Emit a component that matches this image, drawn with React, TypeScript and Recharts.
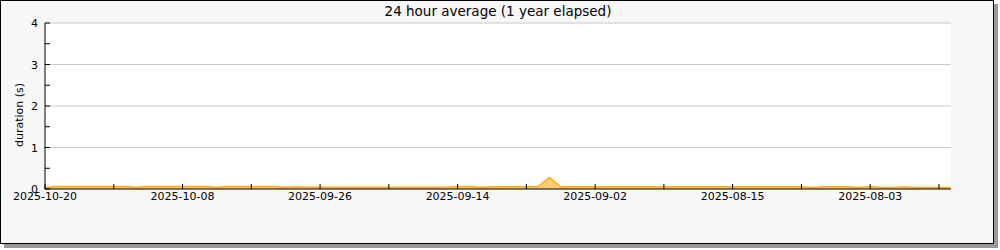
import React from "react";
import { Area, AreaChart, CartesianGrid, XAxis, YAxis } from "recharts";

// days before 2025-10-20, one value per day (seconds)
const durations = [
  0.035, 0.06, 0.06, 0.06, 0.06, 0.06, 0.06, 0.06, 0.04, 0.06,
  0.06, 0.06, 0.06, 0.06, 0.06, 0.04, 0.06, 0.06, 0.06, 0.06,
  0.06, 0.04, 0.055, 0.045, 0.045, 0.045, 0.045, 0.045, 0.045, 0.045,
  0.045, 0.045, 0.045, 0.045, 0.045, 0.045, 0.06, 0.06, 0.045, 0.055,
  0.055, 0.055, 0.055, 0.055, 0.28, 0.055, 0.055, 0.055, 0.055, 0.055,
  0.055, 0.055, 0.055, 0.055, 0.055, 0.055, 0.055, 0.055, 0.055, 0.055,
  0.055, 0.055, 0.055, 0.055, 0.055, 0.055, 0.055, 0.035, 0.055, 0.055,
  0.055, 0.035, 0.06, 0.035, 0.035, 0.05, 0.035, 0.035, 0.035, 0.035,
];

const xTicks = [0, 6, 12, 18, 24, 30, 36, 42, 48, 54, 60, 66, 72, 78];
const xLabels: Record<number, string> = {
  0: "2025-10-20",
  12: "2025-10-08",
  24: "2025-09-26",
  36: "2025-09-14",
  48: "2025-09-02",
  60: "2025-08-15",
  72: "2025-08-03",
};
const yTicks = [0, 0.5, 1, 1.5, 2, 2.5, 3, 3.5, 4];
const yGrid = [1, 2, 3, 4];

const data = durations.map((value, day) => ({ day, value }));

const FONT = "DejaVu Sans, sans-serif";

function XTick(props: any) {
  const { x, y, payload } = props;
  const label = xLabels[payload.value];
  return (
    <g>
      <line x1={x} x2={x} y1={y} y2={y - 5} stroke="#000" />
      {label && (
        <text x={x} y={y + 11} textAnchor="middle" fontSize={11} fontFamily={FONT} fill="#000">
          {label}
        </text>
      )}
    </g>
  );
}

function YTick(props: any) {
  const { x, y, payload } = props;
  const isMajor = Number.isInteger(payload.value);
  return (
    <g>
      <line x1={x} x2={x + 5} y1={y} y2={y} stroke="#000" />
      {isMajor && (
        <text x={x - 7} y={y + 4} textAnchor="end" fontSize={11} fontFamily={FONT} fill="#000">
          {payload.value}
        </text>
      )}
    </g>
  );
}

export default function App() {
  return (
    <div
      style={{
        position: "absolute",
        left: 0,
        top: 0,
        width: 992,
        height: 242,
        border: "1px solid #000",
        background: "#f7f7f7",
        boxShadow: "4px 4px 0 #999",
      }}
    >
      <div
        style={{
          position: "absolute",
          left: 0,
          top: 2,
          width: 994,
          textAlign: "center",
          fontFamily: FONT,
          fontSize: 13.5,
          color: "#000",
        }}
      >
        24 hour average (1 year elapsed)
      </div>
      <div
        style={{
          position: "absolute",
          left: 18,
          top: 114,
          transform: "translate(-50%, -50%) rotate(-90deg)",
          fontFamily: FONT,
          fontSize: 11,
          whiteSpace: "nowrap",
        }}
      >
        duration (s)
      </div>
      <div style={{ position: "absolute", left: -1, top: -1 }}>
        <AreaChart
          width={994}
          height={244}
          data={data}
          margin={{ top: 23, right: 43, bottom: 0, left: 0 }}
        >
          <CartesianGrid
            vertical={false}
            horizontalValues={yGrid}
            stroke="#c8c8c8"
            fill="#fff"
          />
          <XAxis
            dataKey="day"
            type="number"
            domain={[0, 79.05]}
            ticks={xTicks}
            interval={0}
            height={55}
            tickSize={0}
            tickMargin={0}
            tickLine={false}
            axisLine={{ stroke: "#000" }}
            tick={<XTick />}
          />
          <YAxis
            type="number"
            domain={[0, 4]}
            ticks={yTicks}
            interval={0}
            width={45}
            tickSize={0}
            tickMargin={0}
            tickLine={false}
            axisLine={{ stroke: "#000" }}
            tick={<YTick />}
          />
          <Area
            type="linear"
            dataKey="value"
            stroke="#ffaa1e"
            strokeWidth={1.5}
            fill="#ffcc70"
            fillOpacity={1}
            isAnimationActive={false}
            dot={false}
            activeDot={false}
          />
        </AreaChart>
      </div>
    </div>
  );
}
